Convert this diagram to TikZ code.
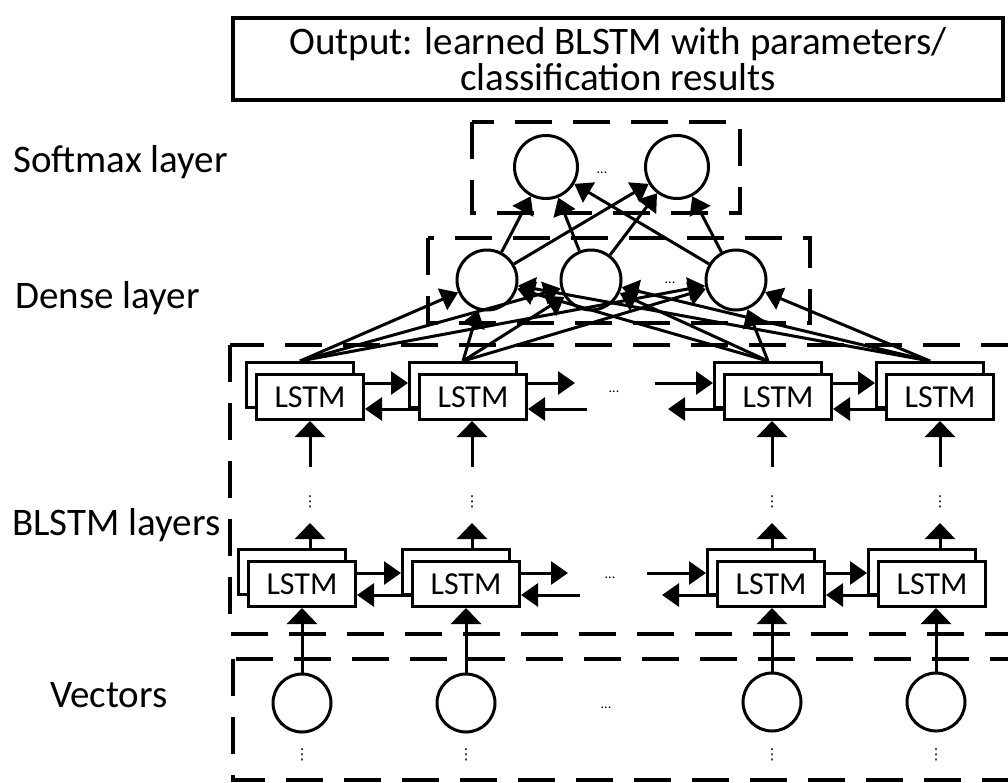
\documentclass[tikz,border=0pt]{standalone}
\usepackage{fontspec}
\setmainfont{Carlito}
\newfontfamily\djv{DejaVu Sans}
\usetikzlibrary{arrows.meta,calc}
\begin{document}
\begin{tikzpicture}[x=1pt,y=-1pt,
  lbl/.style={anchor=west, inner sep=0pt, font=\fontsize{39}{44}\selectfont},
  lstmbox/.style={draw, line width=3pt, fill=white, minimum width=107pt, minimum height=45pt, inner sep=0pt, font=\fontsize{32}{34}\selectfont},
  neuron/.style={draw, circle, line width=3pt, fill=white, minimum size=60pt, inner sep=0pt},
  dbox/.style={draw, line width=3.5pt, dash pattern=on 37pt off 21pt},
  arr/.style={line width=3pt, -{Triangle[length=17pt,width=23pt]}},
  uparr/.style={line width=3pt, -{Triangle[length=16pt,width=30pt]}},
  vmark/.style={font=\djv\fontsize{15}{15}\selectfont, inner sep=0pt},
  dotsl/.style={font=\fontsize{14}{14}\selectfont, inner sep=0pt}]
\useasboundingbox (0,0) rectangle (1008,782);
\clip (0,0) rectangle (1008,782);

% output box
\node[draw, line width=3.5pt, minimum width=770pt, minimum height=82pt, align=center,
      font=\fontsize{39}{36}\selectfont] (out) at (618,59)
      {Output: learned BLSTM with parameters/\\classification results};

% labels
\node[lbl] (lsoft) at (13,162) {Softmax layer};
\node[lbl] (ldense) at (15,298) {Dense layer};
\node[lbl] (lblstm) at (12,525) {BLSTM layers};
\node[lbl] (lvec) at (50,695) {Vectors};

% dashed group boxes
\draw[dbox] (472,122) rectangle (740,213);
\draw[dbox] (428,238) rectangle (810,323);
\draw[dbox] (230,345) rectangle (1060,634);
\draw[dbox] (233,659) rectangle (1060,780);

% softmax and dense neurons
\node[neuron, minimum size=63pt] (S1) at (546,167) {};
\node[neuron, minimum size=63pt] (S2) at (677,167) {};
\node[dotsl] (sdots) at (602,173) {...};
\node[neuron] (D1) at (487,280) {};
\node[neuron] (D2) at (591,280) {};
\node[neuron] (D3) at (736,280) {};
\node[dotsl] (ddots) at (670,283) {...};

% top LSTM row
\foreach \n/\x in {1/310,2/473,3/778,4/940}{
  \node[lstmbox] (T\n b) at (\x-10,385) {};
  \node[lstmbox] (T\n f) at (\x,397) {LSTM};
}
% bottom LSTM row
\foreach \n/\x in {1/302,2/466,3/771,4/932}{
  \node[lstmbox] (B\n b) at (\x-10,572) {};
  \node[lstmbox] (B\n f) at (\x,584) {LSTM};
}
\node[dotsl] (tdots) at (614,392) {...};
\node[dotsl] (bdots) at (610,578) {...};

% vectors
\node[neuron, minimum size=58pt] (V1) at (302,703) {};
\node[neuron, minimum size=58pt] (V2) at (466,703) {};
\node[neuron, minimum size=58pt] (V3) at (772,702) {};
\node[neuron, minimum size=58pt] (V4) at (936,702) {};
\node[dotsl] (vdots) at (606,708) {...};

% small vertical dots between rows and under vectors
\foreach \n/\x in {1/310,2/472,3/772,4/940}{
  \node[vmark] (m\n) at (\x,502) {⋮};
}
\foreach \n/\x in {1/302,2/466,3/772,4/936}{
  \node[vmark] (vm\n) at (\x,755) {⋮};
}

% LSTM -> dense
\foreach \t in {1,2,3,4}{
  \foreach \d in {1,2,3}{
    \draw[arr] (T\t b.north) -- (D\d);
  }
}
% dense -> softmax
\foreach \d in {1,2,3}{
  \foreach \s in {1,2}{
    \draw[arr] (D\d) -- (S\s);
  }
}

% vertical arrows
\foreach \n/\x in {1/310,2/472,3/772,4/940}{
  \coordinate (u\n) at (\x,467);
  \draw[uparr] (u\n) -- (u\n |- T\n f.south);
  \coordinate (w\n) at (\x,523);
  \draw[uparr] (w\n |- B\n b.north) -- (w\n);
  \draw[uparr] (V\n.north) -- (V\n.north |- B\n f.south);
}

% horizontal arrows, top row
\path ([yshift=14pt]T1f.east) coordinate (tf1)
      ([yshift=-12pt]T2f.west) coordinate (tb2)
      ([yshift=14pt]T2f.east) coordinate (tf2)
      ([yshift=-12pt]T2f.east) coordinate (tb2e)
      ([yshift=-12pt]T3f.west) coordinate (tb3)
      ([yshift=14pt]T3f.east) coordinate (tf3)
      ([yshift=-12pt]T4f.west) coordinate (tb4);
\coordinate (ta2) at (575,383);
\coordinate (tc2) at (587,409);
\coordinate (ta3) at (655,383);
\coordinate (tc3) at (668,409);
\draw[arr] (tf1) -- (tf1 -| T2b.west);
\draw[arr] (tb2) -- (tb2 -| T1f.east);
\draw[arr] (tf2) -- (ta2);
\draw[arr] (tc2) -- (tb2e);
\draw[arr] (ta3) -- (ta3 -| T3b.west);
\draw[arr] (tb3) -- (tc3);
\draw[arr] (tf3) -- (tf3 -| T4b.west);
\draw[arr] (tb4) -- (tb4 -| T3f.east);

% horizontal arrows, bottom row
\path ([yshift=11pt]B1f.east) coordinate (bf1)
      ([yshift=-11pt]B2f.west) coordinate (bb2)
      ([yshift=11pt]B2f.east) coordinate (bf2)
      ([yshift=-11pt]B2f.east) coordinate (bb2e)
      ([yshift=-11pt]B3f.west) coordinate (bb3)
      ([yshift=11pt]B3f.east) coordinate (bf3)
      ([yshift=-11pt]B4f.west) coordinate (bb4);
\coordinate (ba2) at (568,573);
\coordinate (bc2) at (580,595);
\coordinate (ba3) at (647,573);
\coordinate (bc3) at (662,595);
\draw[arr] (bf1) -- (bf1 -| B2b.west);
\draw[arr] (bb2) -- (bb2 -| B1f.east);
\draw[arr] (bf2) -- (ba2);
\draw[arr] (bc2) -- (bb2e);
\draw[arr] (ba3) -- (ba3 -| B3b.west);
\draw[arr] (bb3) -- (bc3);
\draw[arr] (bf3) -- (bf3 -| B4b.west);
\draw[arr] (bb4) -- (bb4 -| B3f.east);
\end{tikzpicture}
\end{document}
